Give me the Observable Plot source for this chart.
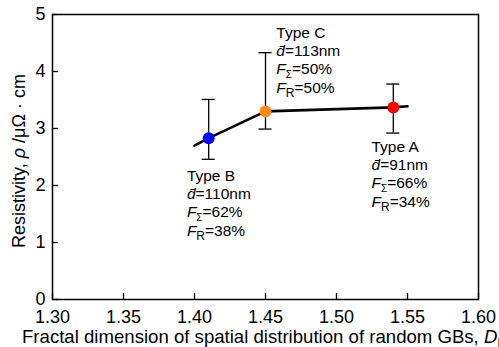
<!DOCTYPE html>
<html>
<head>
<meta charset="utf-8">
<script src="https://cdn.jsdelivr.net/npm/d3@7"></script>
<script src="https://cdn.jsdelivr.net/npm/@observablehq/plot@0.6"></script>
<style>
  html, body { margin: 0; padding: 0; background: #fff; }
</style>
</head>
<body>
<div id="chart"></div>
<script>
// ---- data ----
const types = ["Type B", "Type C", "Type A"];
const fractalDim = [1.41, 1.45, 1.54];
const resistivity = [2.83, 3.30, 3.37];
const errHigh = [3.51, 4.33, 3.78];
const errLow = [2.46, 2.99, 2.92];
const pointColors = ["#0000ff", "#ff8c1a", "#ff0000"];
const dMean = [110, 113, 91];
const fSigma = [62, 50, 66];
const fR = [38, 50, 34];
// label anchors (data units: left x, first-line y)
const labelX = [1.395, 1.458, 1.525];
const labelY = [2.17, 4.68, 2.68];
// trend line
const trendX = [1.40, 1.41, 1.45, 1.54, 1.55];
const trendY = [2.70, 2.83, 3.30, 3.37, 3.39];
// axes
const xTicks = [1.30, 1.35, 1.40, 1.45, 1.50, 1.55, 1.60];
const yTicks = [0, 1, 2, 3, 4, 5];

const pts = types.map((t, i) => ({type: t, x: fractalDim[i], y: resistivity[i], hi: errHigh[i], lo: errLow[i], color: pointColors[i]}));
const trend = trendX.map((x, i) => ({x, y: trendY[i]}));
const capHalf = 0.0046;
const font = "'Liberation Sans', Arial, sans-serif";

const plot = Plot.plot({
  width: 499,
  height: 347,
  marginLeft: 52,
  marginRight: 21,
  marginTop: 14,
  marginBottom: 48,
  style: {fontFamily: font, fontSize: "18px", background: "#fff", overflow: "hidden"},
  x: {domain: [1.30, 1.60], label: null},
  y: {domain: [0, 5], label: null},
  marks: [
    Plot.frame({stroke: "#000", strokeWidth: 1.5}),
    Plot.axisX({ticks: xTicks, tickFormat: d3.format(".2f"), tickSize: -6, tickPadding: 17, fontSize: 18, stroke: "#000", strokeWidth: 1.3, fill: "#000", label: null}),
    Plot.axisY({ticks: yTicks, tickFormat: d3.format("d"), tickSize: -6, tickPadding: 13, fontSize: 18, stroke: "#000", strokeWidth: 1.3, fill: "#000", label: null}),
    Plot.ruleX(pts, {x: "x", y1: "lo", y2: "hi", stroke: "#000", strokeWidth: 1.3}),
    Plot.ruleY(pts, {y: "hi", x1: d => d.x - capHalf, x2: d => d.x + capHalf, stroke: "#000", strokeWidth: 1.3}),
    Plot.ruleY(pts, {y: "lo", x1: d => d.x - capHalf, x2: d => d.x + capHalf, stroke: "#000", strokeWidth: 1.3}),
    Plot.line(trend, {x: "x", y: "y", stroke: "#000", strokeWidth: 2.6}),
    Plot.dot(pts, {x: "x", y: "y", r: 6, fill: "color", stroke: null})
  ]
});

document.getElementById("chart").appendChild(plot);

const xs = plot.scale("x"), ys = plot.scale("y");
const svg = d3.select(plot);

function txt(sel, size) {
  return sel.append("text").style("font-family", font).style("font-size", size + "px")
    .attr("text-anchor", "start").attr("fill", "#000");
}

// annotations
const lineGap = 18.3;
const aSize = 15.5;
types.forEach((t, i) => {
  const x0 = xs.apply(labelX[i]);
  const y0 = ys.apply(labelY[i]);
  txt(svg, aSize).attr("x", x0).attr("y", y0).attr("dy", "0.35em").text(t);
  const t2 = txt(svg, aSize).attr("x", x0).attr("y", y0 + lineGap).attr("dy", "0.35em");
  t2.append("tspan").style("font-style", "italic").text("d\u0304");
  t2.append("tspan").text("=" + dMean[i] + "nm");
  const t3 = txt(svg, aSize).attr("x", x0).attr("y", y0 + 2 * lineGap).attr("dy", "0.35em");
  t3.append("tspan").style("font-style", "italic").text("F");
  t3.append("tspan").style("font-size", "10px").attr("dy", 4).text("\u03A3");
  t3.append("tspan").attr("dy", -4).text("=" + fSigma[i] + "%");
  const t4 = txt(svg, aSize).attr("x", x0).attr("y", y0 + 3 * lineGap).attr("dy", "0.35em");
  t4.append("tspan").style("font-style", "italic").text("F");
  t4.append("tspan").style("font-size", "12px").attr("dy", 4).text("R");
  t4.append("tspan").attr("dy", -4).text("=" + fR[i] + "%");
});

// axis titles
const xl = txt(svg, 18.6).attr("x", 22).attr("y", 336).attr("dy", "0.35em");
xl.append("tspan").text("Fractal dimension of spatial distribution of random GBs, ");
xl.append("tspan").style("font-style", "italic").text("D");
xl.append("tspan").style("font-size", "12px").attr("dy", 4).text("F");

const yl = txt(svg, 18).attr("transform", "translate(18.5,161) rotate(-90)")
  .attr("text-anchor", "middle").attr("dy", "0.35em");
yl.append("tspan").text("Resistivity, ");
yl.append("tspan").style("font-style", "italic").text("\u03C1");
yl.append("tspan").text(" /\u03BC\u03A9 \u00B7 cm");
</script>
</body>
</html>
